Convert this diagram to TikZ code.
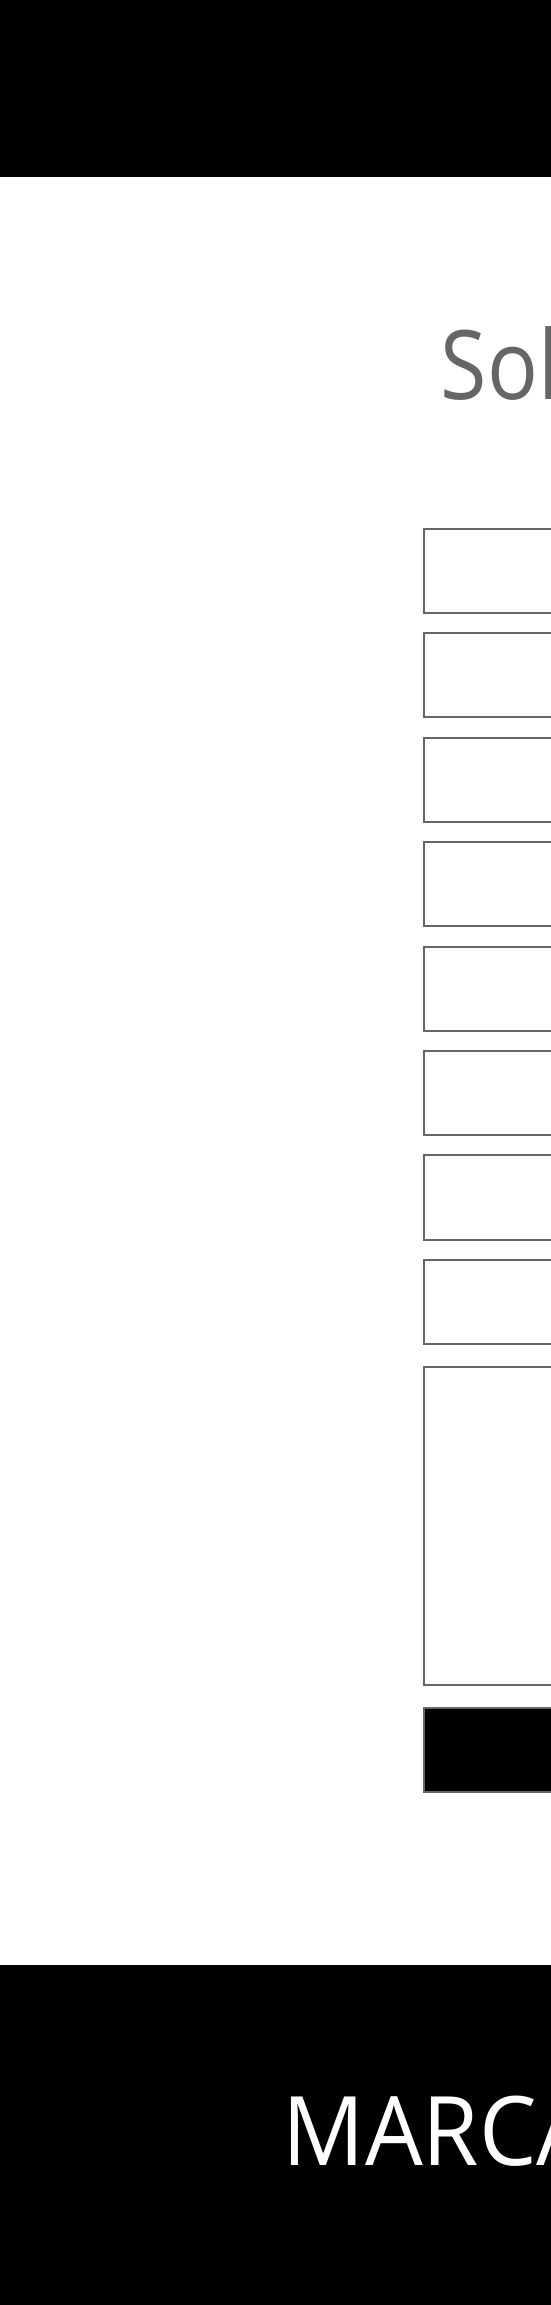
\documentclass[tikz,border=0pt]{standalone}
\usepackage{fontspec}
\setmainfont{Open Sans}
\usepackage{graphicx}
\usepackage{tikz}
\definecolor{band}{HTML}{000000}
\definecolor{frame}{HTML}{666666}
\definecolor{title}{HTML}{666666}
\tikzset{
  every picture/.style={line join=miter},
  bandfill/.style={fill=band, draw=none},
  field/.style={draw=frame, line width=2pt, fill=white, anchor=north west,
    minimum width=400pt, minimum height=84.3pt, inner sep=0pt},
  submit/.style={field, fill=band},
  heading/.style={text=title, inner sep=0pt, anchor=base west,
    font=\fontsize{96}{110}\selectfont},
  brand/.style={text=white, inner sep=0pt, anchor=base west,
    font=\fontsize{96}{110}\selectfont}
}

\begin{document}
\begin{tikzpicture}[x=1pt, y=-1pt]
  \useasboundingbox (0,0) rectangle (550,2305);
  \clip (-20,-20) rectangle (570,2325);

  % header and footer bands
  \fill[bandfill] (-20,-20) rectangle (570,177);
  \fill[bandfill] (-20,1965) rectangle (570,2325);

  % title
  \node[heading] (title) at (440.5,399.5) {\scalebox{0.88}[1]{Sol}};

  % form fields (one per row)
  \foreach \i in {1,...,8} {
    \node[field] (field\i) at (422.7,{527.7+(\i-1)*104.45}) {};
  }

  % message area and send button
  \node[field, minimum height=317.7pt] (message) at (422.7,1366) {};
  \node[submit, minimum height=84pt] (send) at (422.7,1707.3) {};

  % footer brand
  \node[brand] (brandname) at (282.5,2165.7) {\scalebox{0.95}[1]{MARCA}};
\end{tikzpicture}
\end{document}
